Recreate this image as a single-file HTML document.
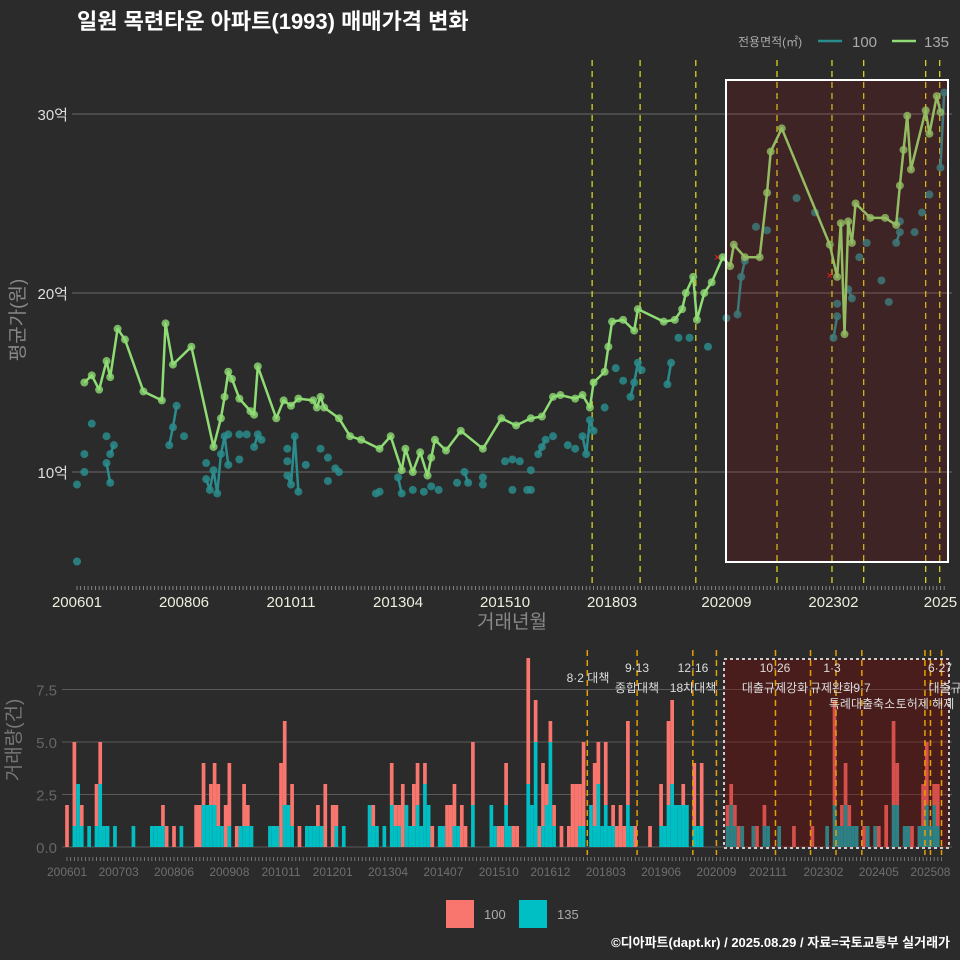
<!DOCTYPE html>
<html><head><meta charset="utf-8"><style>
html,body{margin:0;padding:0;background:#2b2b2b;}
svg{display:block;font-family:"Liberation Sans","Noto Sans CJK KR",sans-serif;}
</style></head><body>
<svg id="c" width="960" height="960" viewBox="0 0 960 960" xmlns="http://www.w3.org/2000/svg">
<rect x="0" y="0" width="960" height="960" fill="#2b2b2b"/>
<text x="77" y="29" fill="#ffffff" font-size="22" font-weight="bold">일원 목련타운 아파트(1993) 매매가격 변화</text>
<g>
<text x="738" y="46" fill="#aaaaaa" font-size="12">전용면적(㎡)</text>
<line x1="818" y1="41" x2="842" y2="41" stroke="#2a8c8c" stroke-width="2.5"/>
<text x="852" y="47" fill="#aaaaaa" font-size="15">100</text>
<line x1="892" y1="41" x2="916" y2="41" stroke="#8fdc74" stroke-width="2.5"/>
<text x="924" y="47" fill="#aaaaaa" font-size="15">135</text>
</g>
<text transform="translate(24,320) rotate(-90)" text-anchor="middle" fill="#888888" font-size="19">평균가(원)</text>
<text x="512" y="628" text-anchor="middle" fill="#888888" font-size="19">거래년월</text>
<text transform="translate(20,740) rotate(-90)" text-anchor="middle" fill="#777777" font-size="19">거래량(건)</text>
<g id="topPanel"></g>
<g id="botPanel"></g>
<g>
<rect x="446" y="900" width="28" height="28" fill="#F8766D"/>
<text x="484" y="919" fill="#aaaaaa" font-size="13">100</text>
<rect x="519" y="900" width="28" height="28" fill="#00BFC4"/>
<text x="557" y="919" fill="#aaaaaa" font-size="13">135</text>
</g>
<text x="950" y="947" text-anchor="end" fill="#ffffff" font-size="13" font-weight="bold">©디아파트(dapt.kr) / 2025.08.29 / 자료=국토교통부 실거래가</text>
</svg>
<script>
// ---- data (month index from 2006-01) ----
const priceTicks = [10, 20, 30];
const priceTickLabels = ["10억", "20억", "30억"];
const topXTickMonths = [0, 29, 58, 87, 116, 145, 176, 205, 234];
const topXTickLabels = ["200601","200806","201011","201304","201510","201803","202009","202302","2025"];
const botXTickMonths = [0,14,29,44,58,72,87,102,117,131,146,161,176,190,205,220,234];
const botXTickLabels = ["200601","200703","200806","200908","201011","201201","201304","201407","201510","201612","201803","201906","202009","202111","202302","202405","202508"];
const volTicks = [0, 2.5, 5, 7.5];
const volTickLabels = ["0.0","2.5","5.0","7.5"];

const months135 = [2,4,6,8,9,11,13,18,23,24,26,31,37,39,40,41,42,44,47,48,49,54,56,58,60,64,65,66,67,71,74,77,82,85,88,89,91,93,95,96,97,100,104,110,115,119,123,126,129,131,135,137,139,140,143,144,145,148,151,152,159,162,164,165,167,168,170,172,175,177,178,181,185,187,188,191,204,206,207,208,209,210,211,215,219,222,223,224,225,226,230,231,233,234];
const prices135 = [15.0,15.4,14.6,16.2,15.3,18.0,17.4,14.5,14.0,18.3,16.0,17.0,11.4,13.0,14.2,15.6,15.2,14.1,13.4,13.2,15.9,13.0,14.0,13.7,14.1,14.0,13.6,14.2,13.6,13.0,12.0,11.8,11.3,12.0,10.1,11.3,10.0,11.1,9.8,10.8,11.8,11.2,12.3,11.3,13.0,12.6,13.0,13.1,14.2,14.3,14.1,14.3,13.6,15.0,15.6,17.0,18.4,18.5,17.9,19.1,18.4,18.5,19.1,20.0,20.9,18.5,20.0,20.6,22.0,21.5,22.7,22.0,22.0,25.6,27.9,29.2,22.7,20.9,23.9,17.7,24.0,22.8,25.0,24.2,24.2,23.8,26.0,28.0,29.9,26.9,30.2,28.9,31.0,30.1];

const months100 = [0,0,2,2,4,8,8,9,9,10,25,26,27,29,35,35,36,37,38,39,40,41,41,44,44,46,48,49,50,57,57,57,58,59,60,62,66,68,68,70,71,81,82,87,88,91,94,96,98,103,105,106,110,110,116,118,118,120,122,123,123,125,126,127,129,133,135,137,138,139,140,143,146,148,150,151,152,153,160,161,163,166,171,176,179,180,181,184,187,195,200,205,206,206,209,210,212,214,218,220,222,223,223,227,229,231,234,235];
const prices100 = [9.3,5.0,10.0,11.0,12.7,12.0,10.5,9.4,11.0,11.5,11.5,12.5,13.7,12.0,10.5,9.6,9.0,10.1,8.8,11.0,12.0,10.4,12.1,12.1,10.7,12.1,11.4,12.1,11.8,11.3,10.6,9.8,9.3,12.0,8.9,10.4,11.3,10.8,9.5,10.2,10.0,8.8,8.9,9.7,8.8,9.0,8.9,9.2,9.0,9.4,10.0,9.4,9.7,9.3,10.6,10.7,9.0,10.6,9.0,9.0,10.1,11.0,11.4,11.8,12.0,11.5,11.3,12.0,11.0,12.9,12.3,13.6,15.8,15.1,14.2,15.0,16.1,15.7,14.9,16.1,17.5,17.5,17.0,18.6,18.8,20.9,21.8,23.7,23.5,25.3,24.5,17.5,18.7,19.4,20.2,19.7,22.0,22.8,20.7,19.5,22.8,23.4,24.0,23.4,24.5,25.5,27.0,31.2];

const barMonths = [0,2,3,4,6,8,9,10,11,13,18,23,24,25,26,27,29,31,35,36,37,38,39,40,41,42,43,44,46,47,48,49,50,55,56,57,58,59,60,61,63,65,66,67,68,69,70,72,73,75,82,83,84,86,88,89,90,91,92,93,94,95,96,97,98,99,101,102,103,104,105,106,107,108,110,115,116,117,118,119,120,121,122,125,126,127,128,129,130,131,132,134,136,137,138,139,140,142,143,144,145,146,147,148,149,150,151,152,153,154,158,161,162,163,164,165,166,167,168,170,171,172,179,180,181,182,183,186,187,189,190,193,197,202,206,208,209,210,211,212,213,214,216,217,219,220,222,224,225,227,228,229,231,232,233,234,235,236];
const barTotal = [2,5,3,2,1,3,5,1,1,1,1,1,1,1,2,1,1,1,2,2,4,2,3,4,3,1,2,4,1,1,3,2,1,1,1,1,4,6,2,3,1,1,1,1,2,1,3,2,2,1,2,2,1,1,4,2,2,3,2,1,3,4,1,4,2,1,1,1,2,2,3,1,2,1,5,2,1,1,1,4,1,1,1,9,2,7,1,4,3,6,2,1,1,3,3,3,5,2,4,5,1,5,1,2,1,2,1,6,1,1,1,3,1,6,7,2,2,3,2,4,1,4,2,3,2,1,1,1,1,2,1,1,1,1,1,7,1,2,4,2,1,1,1,1,1,1,2,6,4,1,1,1,1,3,5,1,3,3];
const barTeal = [0,1,3,1,1,1,3,1,1,1,1,1,1,1,1,0,0,1,0,0,2,2,2,2,1,1,0,1,0,1,1,1,1,1,1,1,0,2,2,1,0,1,1,1,1,1,0,0,1,1,2,1,1,1,2,1,1,0,2,1,1,2,1,3,2,0,1,1,0,0,1,1,0,0,2,2,1,0,0,2,1,0,0,3,2,5,0,1,2,5,1,0,0,0,0,1,1,2,1,3,1,2,1,1,0,0,0,2,1,0,0,1,1,2,3,2,2,2,2,1,1,1,1,2,1,0,1,1,0,1,1,1,0,0,1,2,1,1,2,1,1,1,0,1,1,0,0,2,2,1,1,0,1,1,2,1,2,1];

const topPolicyMonths = [139.6,152.6,167.7,189.7,204.6,213.2,230,233.8];
const botPolicyMonths = [141,154.5,169.6,176,192,201.5,208.4,215.4,232.5,234,237];

// ---- scales ----
const NS = "http://www.w3.org/2000/svg";
const xTop = m => 77 + 3.69 * m;
const yTop = v => 472 - (v - 10) * 17.9;
const xBot = m => 67 + 3.69 * m;
const yBot = c => 847 - c * 21;
function mk(tag, attrs, parent) {
  const e = document.createElementNS(NS, tag);
  for (const k in attrs) e.setAttribute(k, attrs[k]);
  parent.appendChild(e);
  return e;
}
const topG = document.getElementById("topPanel");
const botG = document.getElementById("botPanel");

// ---- top panel ----
priceTicks.forEach((t, i) => {
  const g = mk("line", {x1: 72, x2: 952, y1: yTop(t), y2: yTop(t), stroke: "#6a6a6a", "stroke-width": 1}, topG);
  
  
  const tx = mk("text", {x: 68, y: yTop(t) + 6, "text-anchor": "end", fill: "#dddddd", "font-size": 15}, topG);
  tx.textContent = priceTickLabels[i];
  
  
});
for (let m = 0; m <= 235; m++) {
  const t = mk("line", {x1: xTop(m), x2: xTop(m), y1: 586, y2: 590, stroke: "#999", "stroke-width": 0.8}, topG);
  
  
}
topXTickMonths.forEach((m, i) => {
  const tx = mk("text", {x: xTop(m), y: 607, "text-anchor": "middle", fill: "#eeeedd", "font-size": 15}, topG);
  tx.textContent = topXTickLabels[i];
  
  
});
topPolicyMonths.forEach(m => {
  const l = mk("line", {x1: xTop(m), x2: xTop(m), y1: 60, y2: 585, stroke: "#e6e020", "stroke-width": 1.2, "stroke-dasharray": "6,5"}, topG);
  
  
});
// 100 series
for (let i = 1; i < months100.length; i++) {
  if (months100[i] - months100[i - 1] === 1) {
    const l = mk("line", {x1: xTop(months100[i - 1]), y1: yTop(prices100[i - 1]), x2: xTop(months100[i]), y2: yTop(prices100[i]), stroke: "#2a8c8c", "stroke-width": 2.5}, topG);
    
    
  }
}
months100.forEach((m, i) => {
  const c = mk("circle", {cx: xTop(m), cy: yTop(prices100[i]), r: 4, fill: "#2a8c8c", "fill-opacity": 0.85}, topG);
  
  
});
// 135 series
const pts = months135.map((m, i) => xTop(m) + "," + yTop(prices135[i])).join(" ");
const pl = mk("polyline", {points: pts, fill: "none", stroke: "#8fdc74", "stroke-width": 2.5, "stroke-linejoin": "round"}, topG);


months135.forEach((m, i) => {
  const c = mk("circle", {cx: xTop(m), cy: yTop(prices135[i]), r: 4, fill: "#8fdc74", "fill-opacity": 0.8}, topG);
  
  
});
[[173.5, 22.0], [204, 21.0]].forEach(p => {
  const x = mk("text", {x: xTop(p[0]), y: yTop(p[1]) + 4, "text-anchor": "middle", fill: "#ff2020", "font-size": 11}, topG);
  x.textContent = "×";
  
  
});
const hr = mk("rect", {x: 726, y: 80, width: 222, height: 482, fill: "rgba(186,0,0,0.14)", stroke: "#ffffff", "stroke-width": 2}, topG);



// ---- bottom panel ----
volTicks.forEach((t, i) => {
  const g = mk("line", {x1: 62, x2: 952, y1: yBot(t), y2: yBot(t), stroke: "#5a5a5a", "stroke-width": 1}, botG);
  
  
  const tx = mk("text", {x: 57, y: yBot(t) + 6, "text-anchor": "end", fill: "#666666", "font-size": 15}, botG);
  tx.textContent = volTickLabels[i];
  
  
});
const bw = 3.69;
const nBars = Math.min(barMonths.length, barTotal.length, barTeal.length);
for (let i = 0; i < nBars; i++) {
  const m = barMonths[i];
  const tot = barTotal[i], tl = Math.min(barTeal[i], barTotal[i]);
  if (tot > tl) {
    const r = mk("rect", {x: xBot(m) - bw / 2, y: yBot(tot), width: bw, height: (tot - tl) * 21, fill: "#F8766D"}, botG);
    
    
  }
  if (tl > 0) {
    const r2 = mk("rect", {x: xBot(m) - bw / 2, y: yBot(tl), width: bw, height: tl * 21, fill: "#00BFC4"}, botG);
    
    
  }
}
for (let m = 0; m <= 237; m++) {
  const t = mk("line", {x1: xBot(m), x2: xBot(m), y1: 857, y2: 861, stroke: "#888", "stroke-width": 0.8}, botG);
  
  
}
botXTickMonths.forEach((m, i) => {
  const tx = mk("text", {x: xBot(m), y: 876, "text-anchor": "middle", fill: "#6e6e6e", "font-size": 12}, botG);
  tx.textContent = botXTickLabels[i];
  
  
});
const br = mk("rect", {x: 724, y: 659, width: 225, height: 189, fill: "rgba(140,0,0,0.32)", stroke: "#cccccc", "stroke-width": 2, "stroke-dasharray": "3,3"}, botG);


botPolicyMonths.forEach(m => {
  const l = mk("line", {x1: xBot(m), x2: xBot(m), y1: 650, y2: 855, stroke: "#e6a000", "stroke-width": 1.5, "stroke-dasharray": "6,4"}, botG);
  
  
});
const notes = [
  [588, 682, "8·2 대책"], [637, 672, "9·13"], [637, 692, "종합대책"],
  [693, 672, "12·16"], [693, 692, "18차대책"], [775, 672, "10·26"],
  [775, 692, "대출규제강화"], [832, 672, "1·3"], [832, 692, "규제완화"],
  [862, 692, "9·7"], [862, 708, "특례대출축소"], [925, 708, "토허제 해제"],
  [940, 672, "6·27"], [945, 692, "대출규"]
];
notes.forEach(n => {
  const tx = mk("text", {x: n[0], y: n[1], "text-anchor": "middle", fill: "#dddddd", "font-size": 12}, botG);
  tx.textContent = n[2];
  
  
});
</script>
</body></html>
